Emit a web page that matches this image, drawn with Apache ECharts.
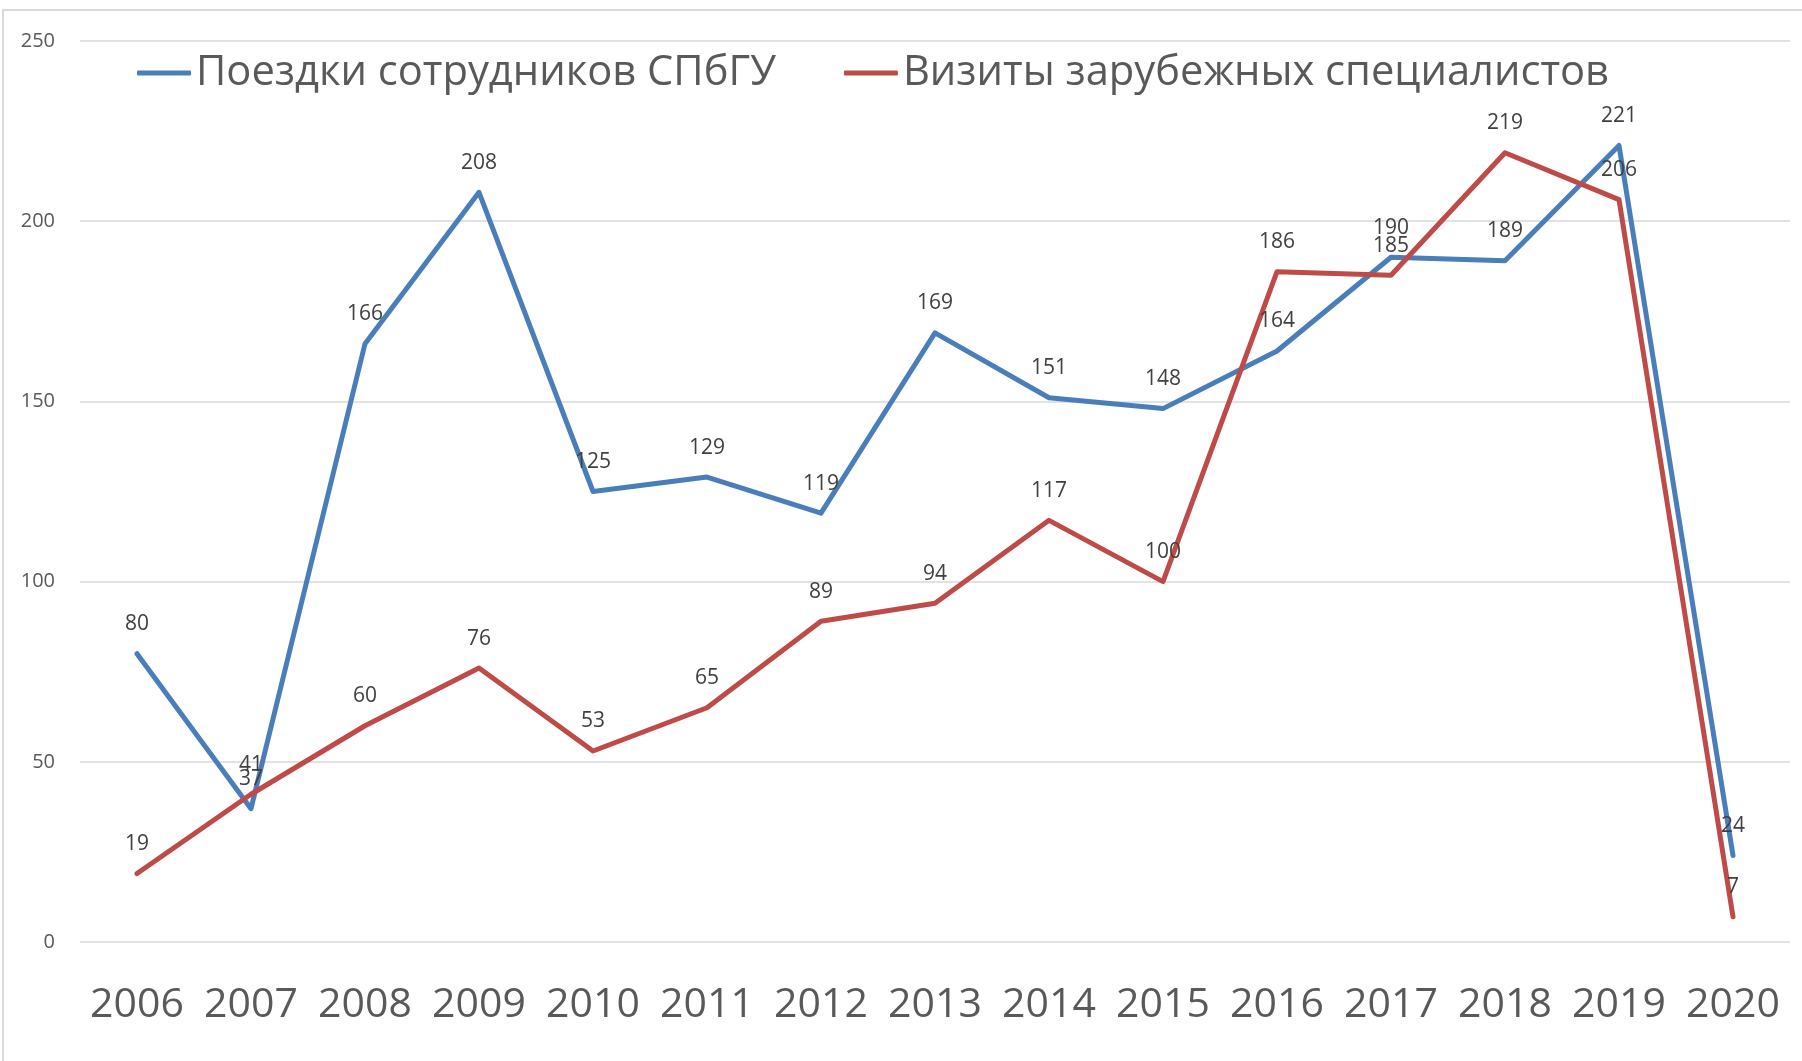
<!DOCTYPE html>
<html>
<head>
<meta charset="utf-8">
<script src="https://cdn.jsdelivr.net/npm/echarts@6/dist/echarts.min.js"></script>
<style>
  html, body { margin: 0; padding: 0; background: #fff; }
  #chart { width: 1802px; height: 1061px; }
</style>
</head>
<body>
<div id="chart"></div>
<script>
const years = ["2006", "2007", "2008", "2009", "2010", "2011", "2012", "2013",
  "2014", "2015", "2016", "2017", "2018", "2019", "2020"];
const staffTrips = [80, 37, 166, 208, 125, 129, 119, 169, 151, 148, 164, 190, 189, 221, 24];
const foreignVisits = [19, 41, 60, 76, 53, 65, 89, 94, 117, 100, 186, 185, 219, 206, 7];
const seriesNames = ["Поездки сотрудников СПбГУ", "Визиты зарубежных специалистов"];

const chart = echarts.init(document.getElementById("chart"));
const font = "'Open Sans', sans-serif";

function lineSeries(name, data, color) {
  return {
    name: name,
    type: "line",
    data: data,
    symbol: "circle",
    symbolSize: 0.1,
    showSymbol: true,
    smooth: false,
    lineStyle: { color: color, width: 5, cap: "round", join: "round" },
    itemStyle: { color: color },
    label: {
      show: true,
      position: "top",
      distance: 19,
      color: "#404040",
      fontSize: 21,
      fontFamily: font
    }
  };
}

var option = {
  animation: false,
  backgroundColor: "#fff",
  graphic: [{
    type: "rect",
    shape: { x: 3, y: 10, width: 1820, height: 1070 },
    style: { fill: "none", stroke: "#d9d9d9", lineWidth: 2 },
    silent: true
  }],
  grid: { left: 80, right: 12, top: 41, bottom: 119 },
  legend: {
    left: 132,
    top: 47,
    itemWidth: 54,
    itemHeight: 5,
    itemGap: 68,
    icon: "roundRect",
    textStyle: { fontSize: 41.7, color: "#595959", fontFamily: font },
    data: seriesNames
  },
  xAxis: {
    type: "category",
    data: years,
    boundaryGap: true,
    axisLine: { show: false },
    axisTick: { show: false },
    axisLabel: { interval: 0, fontSize: 41, color: "#595959", fontFamily: font, margin: 43 }
  },
  yAxis: {
    type: "value",
    min: 0,
    max: 250,
    interval: 50,
    axisLine: { show: false },
    axisTick: { show: false },
    splitLine: { lineStyle: { color: "#d9d9d9", width: 1.5 } },
    axisLabel: { fontSize: 20, color: "#595959", fontFamily: font, margin: 25 }
  },
  series: [
    lineSeries(seriesNames[0], staffTrips, "#4a7ebb"),
    lineSeries(seriesNames[1], foreignVisits, "#be4b48")
  ]
};

chart.setOption(option);
</script>
</body>
</html>
